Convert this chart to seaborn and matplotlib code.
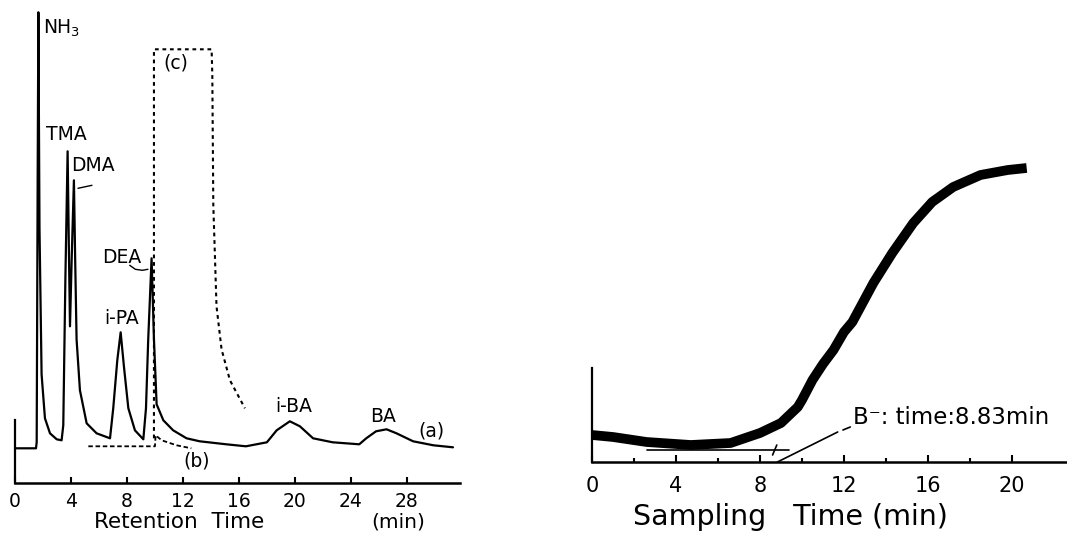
import numpy as np
import pandas as pd
import matplotlib
matplotlib.use("Agg")
import matplotlib.pyplot as plt
import seaborn as sns

sns.set_style("ticks")
plt.rcParams['font.family'] = ['DejaVu Sans']
plt.rcParams['text.color'] = 'black'
plt.rcParams['axes.labelcolor'] = 'black'
plt.rcParams['xtick.color'] = 'black'
plt.rcParams['axes.edgecolor'] = 'black'

# ---------------- Left panel data: chromatogram (a), (b), (c) ----------------
trace_a_time = [0.07, 1.5, 1.55, 1.62, 1.67, 1.75, 1.9, 2.14, 2.5, 2.98, 3.33,
                3.45, 3.6, 3.76, 3.85, 3.93, 4.05, 4.21, 4.3, 4.4, 4.64, 5.12,
                5.83, 6.79, 7.02, 7.31, 7.55, 7.79, 8.1, 8.57, 9.17, 9.36,
                9.52, 9.76, 9.93, 10.12, 10.6, 11.3, 12.26, 13.2, 15.1, 16.5,
                18.0, 18.7, 19.64, 20.36, 21.3, 22.7, 24.6, 25.1, 25.8, 26.55,
                27.26, 28.45, 29.9, 31.3]
trace_a_resp = [35, 35, 41, 306, 471, 255, 109, 65, 50, 44, 43,
                58, 204, 332, 235, 157, 224, 303, 224, 144, 93, 60,
                50, 45, 75, 123, 151, 116, 75, 53, 44, 75,
                144, 225, 144, 79, 63, 53, 45, 42, 39, 37,
                41, 53, 62, 57, 45, 41, 39, 45, 52, 54,
                50, 42, 38, 36]

trace_c_time = [9.93, 9.93, 14.05, 14.1, 14.17, 14.4, 14.76, 15.36, 16.43]
trace_c_resp = [45, 434, 434, 408, 279, 177, 134, 103, 75]

trace_b_time = [5.24, 10.0, 10.05, 10.48, 11.55, 12.6]
trace_b_resp = [37, 37, 48, 43, 38, 35]

left_ticks = [0, 4, 8, 12, 16, 20, 24, 28]
peak_labels = ["NH$_3$", "TMA", "DMA", "DEA", "i-PA", "(c)", "i-BA", "BA", "(a)", "(b)"]
peak_label_t = [2.0, 2.25, 4.0, 6.2, 6.35, 10.6, 18.6, 25.4, 28.8, 12.0]
peak_label_h = [455, 349, 318, 226, 165, 420, 77, 67, 52, 22]

# ---------------- Right panel data: sampling curve ----------------
samp_time = [0.0, 1.0, 2.6, 4.7, 6.6, 8.0, 9.0, 9.8, 10.0, 10.5, 11.0, 11.5,
             12.0, 12.4, 13.4, 14.3, 15.3, 16.2, 17.2, 18.5, 19.8, 20.7]
samp_resp = [27, 25, 20, 17, 19, 29, 39, 55, 62, 82, 98, 112,
             130, 140, 179, 209, 239, 260, 275, 287, 292, 294]
right_ticks = [0, 4, 8, 12, 16, 20]
right_minor = [2, 6, 10, 14, 18]
break_time = 8.83

W, H = 1067, 533
fig = plt.figure(figsize=(W / 100, H / 100), dpi=100)

def px(x, y):
    return x / W, 1 - y / H

# ---------------- Left axes ----------------
LB = 483.3
axL = fig.add_axes([15 / W, (H - LB) / H, 445 / W, LB / H])
axL.set_xlim(0, 31.8)
axL.set_ylim(0, LB)
dfa = pd.DataFrame({"t": trace_a_time, "h": trace_a_resp})
sns.lineplot(data=dfa, x="t", y="h", ax=axL, color="black", lw=1.6,
             estimator=None, sort=False)
dfc = pd.DataFrame({"t": trace_c_time, "h": trace_c_resp})
sns.lineplot(data=dfc, x="t", y="h", ax=axL, color="black", lw=1.5,
             linestyle=(0, (1.8, 1.8)), estimator=None, sort=False)
dfb = pd.DataFrame({"t": trace_b_time, "h": trace_b_resp})
sns.lineplot(data=dfb, x="t", y="h", ax=axL, color="black", lw=1.3,
             linestyle=(0, (2.5, 1.5)), estimator=None, sort=False)
# small leader lines
axL.plot([4.5, 5.5], [295, 298], color="black", lw=1.0)
axL.plot([8.2, 8.6, 9.1, 9.5], [218, 214, 213, 214], color="black", lw=1.0)

for lab, t, h in zip(peak_labels, peak_label_t, peak_label_h):
    axL.text(t, h, lab, fontsize=13.5, va="center", ha="left", color="black")

axL.set_xticks(left_ticks)
axL.set_yticks([])
axL.set_xlabel("")
axL.set_ylabel("")
for s in ["top", "right"]:
    axL.spines[s].set_visible(False)
axL.spines["left"].set_bounds(0, 63.5)
axL.spines["left"].set_linewidth(1.6)
axL.spines["bottom"].set_linewidth(1.8)
axL.tick_params(axis="x", direction="in", length=4, width=1.5, labelsize=13.5, pad=6)
fig.text(*px(179, 522), "Retention  Time", fontsize=15.5, ha="center", va="center")
fig.text(*px(398, 522), "(min)", fontsize=14.5, ha="center", va="center")

# ---------------- Right axes ----------------
axR = fig.add_axes([592 / W, (H - 462) / H, (W - 592) / W, 462 / H])
axR.set_xlim(0, 22.62)
axR.set_ylim(0, 462)
dfs = pd.DataFrame({"t": samp_time, "h": samp_resp})
sns.lineplot(data=dfs, x="t", y="h", ax=axR, color="black", lw=7,
             estimator=None, sort=False, solid_capstyle="butt",
             solid_joinstyle="round")
# baseline extension, cross mark and tangent line to break time
axR.plot([2.6, 9.4], [12, 12], color="black", lw=1.2)
axR.plot([8.6, 8.8], [7, 17], color="black", lw=1.2)
axR.plot([break_time, 11.7], [0, 30], color="black", lw=1.2)
axR.plot([11.95, 12.3], [32, 35], color="black", lw=1.2)
axR.text(12.43, 45, "B\u207b: time:8.83min", fontsize=16.5, va="center", ha="left")

axR.set_xticks(right_ticks)
axR.set_xticks(right_minor, minor=True)
axR.set_yticks([])
axR.set_xlabel("")
axR.set_ylabel("")
for s in ["top", "right"]:
    axR.spines[s].set_visible(False)
axR.spines["left"].set_bounds(0, 94)
axR.spines["left"].set_linewidth(1.6)
axR.spines["bottom"].set_linewidth(1.8)
axR.tick_params(axis="x", which="major", direction="in", length=5, width=1.5,
                labelsize=15, pad=10)
axR.tick_params(axis="x", which="minor", direction="in", length=3, width=1.5)
fig.text(*px(790, 517), "Sampling   Time (min)", fontsize=20.5, ha="center", va="center")

fig.savefig("out.png", dpi=100)
